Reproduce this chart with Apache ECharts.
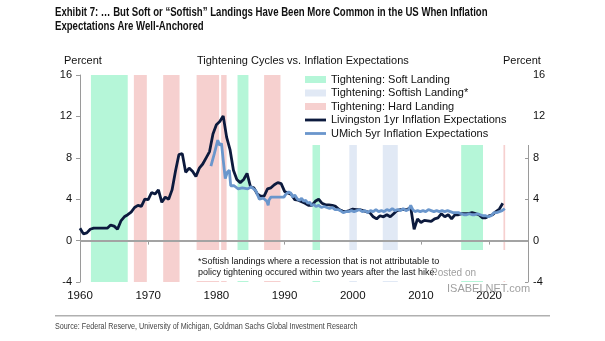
<!DOCTYPE html>
<html><head><meta charset="utf-8">
<script src="https://cdn.jsdelivr.net/npm/echarts@6/dist/echarts.min.js"></script>
<style>html,body{margin:0;padding:0;background:#fff}#c{width:605px;height:341px}</style>
</head><body><div id="c"></div>
<script>
// ---- Data ----
const livYears = [1960.0,1960.5,1961.0,1961.5,1962.0,1962.5,1963.0,1963.5,1964.0,1964.5,1965.0,1965.5,1966.0,1966.5,1967.0,1967.5,1968.0,1968.5,1969.0,1969.5,1970.0,1970.5,1971.0,1971.5,1972.0,1972.5,1973.0,1973.5,1974.0,1974.5,1975.0,1975.5,1976.0,1976.5,1977.0,1977.5,1978.0,1978.5,1979.0,1979.5,1980.0,1980.5,1981.0,1981.5,1982.0,1982.5,1983.0,1983.5,1984.0,1984.5,1985.0,1985.5,1986.0,1986.5,1987.0,1987.5,1988.0,1988.5,1989.0,1989.5,1990.0,1990.5,1991.0,1991.5,1992.0,1992.5,1993.0,1993.5,1994.0,1994.5,1995.0,1995.5,1996.0,1996.5,1997.0,1997.5,1998.0,1998.5,1999.0,1999.5,2000.0,2000.5,2001.0,2001.5,2002.0,2002.5,2003.0,2003.5,2004.0,2004.5,2005.0,2005.5,2006.0,2006.5,2007.0,2007.5,2008.0,2008.5,2009.0,2009.5,2010.0,2010.5,2011.0,2011.5,2012.0,2012.5,2013.0,2013.5,2014.0,2014.5,2015.0,2015.5,2016.0,2016.5,2017.0,2017.5,2018.0,2018.5,2019.0,2019.5,2020.0,2020.5,2021.0,2021.5,2022.0];
const livVals = [1.2,0.65,0.75,1.1,1.2,1.2,1.2,1.2,1.2,1.5,1.4,1.1,1.9,2.3,2.5,2.75,3.2,3.4,3.3,4.0,3.95,4.65,4.5,4.9,3.7,4.2,4.0,4.9,6.7,8.3,8.4,6.6,7.0,6.7,6.2,7.0,7.4,8.0,8.6,10.3,11.2,11.5,12.05,10.0,8.8,6.8,5.9,5.6,5.9,6.5,5.2,5.1,4.5,4.3,4.3,5.0,5.1,5.4,5.6,5.5,4.75,4.6,4.45,3.95,3.9,3.75,3.6,3.4,3.4,3.8,4.0,3.6,3.45,3.45,3.4,3.3,3.0,2.85,2.8,2.9,3.05,3.0,3.0,2.9,2.8,2.7,2.3,2.1,2.4,2.3,2.5,2.3,2.6,2.9,3.0,3.0,3.0,3.2,1.1,2.1,1.75,1.95,1.9,1.85,2.1,2.2,2.6,2.3,2.5,2.1,2.5,2.5,2.6,2.6,2.6,2.7,2.6,2.5,2.2,2.2,2.4,2.5,2.8,3.05,3.6];

const umYears = [1979.2,1979.7,1980.2,1980.5,1980.75,1981.0,1981.3,1981.6,1981.9,1982.1,1982.6,1983.2,1983.8,1984.6,1985.1,1985.8,1986.3,1986.9,1987.4,1987.6,1987.7,1988.0,1988.7,1989.9,1990.2,1990.6,1990.9,1991.2,1991.5,1991.9,1992.2,1992.5,1992.8,1993.1,1993.4,1993.7,1994.0,1994.3,1994.6,1995.0,1995.4,1995.8,1996.2,1996.6,1997.0,1997.4,1997.8,1998.2,1998.6,1999.0,1999.4,1999.8,2000.2,2000.6,2001.0,2001.4,2001.8,2002.2,2002.6,2003.0,2003.4,2003.8,2004.2,2004.6,2005.0,2005.4,2005.8,2006.2,2006.6,2007.0,2007.4,2007.8,2008.2,2008.5,2008.8,2009.1,2009.5,2009.9,2010.3,2010.7,2011.1,2011.5,2011.9,2012.3,2012.7,2013.1,2013.5,2013.9,2014.3,2014.7,2015.1,2015.5,2015.9,2016.3,2016.7,2017.1,2017.5,2017.9,2018.3,2018.7,2019.1,2019.5,2019.9,2020.3,2020.7,2021.1,2021.5,2021.9,2022.3];
const umVals = [7.2,8.4,9.7,9.2,9.4,7.8,6.0,6.6,6.8,5.3,5.3,5.0,5.1,5.0,5.2,4.8,4.0,4.1,3.8,3.4,3.9,4.2,4.2,4.2,4.5,4.7,4.6,4.2,4.4,4.0,3.9,4.1,3.8,3.9,3.6,3.7,3.4,3.5,3.3,3.4,3.2,3.3,3.2,3.1,3.2,3.0,3.0,2.9,2.7,2.8,2.8,2.9,2.8,2.9,3.0,2.8,2.9,2.7,2.9,2.8,3.0,2.8,2.9,2.8,3.0,2.9,3.1,2.9,3.0,2.9,3.1,2.9,3.0,3.4,3.0,2.8,2.9,2.8,2.9,2.8,3.0,2.9,2.8,2.9,2.8,2.9,2.8,2.9,2.8,2.7,2.7,2.7,2.6,2.5,2.5,2.6,2.5,2.5,2.6,2.5,2.4,2.4,2.3,2.4,2.7,2.7,2.8,2.9,3.1];

const softStart = [1961.6,1983.1,1994.1,2015.9];
const softEnd   = [1967.0,1984.7,1995.2,2019.1];
const softishStart = [1999.5,2004.4];
const softishEnd   = [2000.6,2006.6];
const hardStart = [1967.9,1972.2,1977.1,1980.7,1987.0,2022.1];
const hardEnd   = [1969.8,1974.6,1980.4,1981.5,1989.4,2022.35];

const names = ['Tightening: Soft Landing','Tightening: Softish Landing*','Tightening: Hard Landing','Livingston 1yr Inflation Expectations','UMich 5yr Inflation Expectations'];
const titleLines = ['Exhibit 7: \u2026 But Soft or \u201cSoftish\u201d Landings Have Been More Common in the US When Inflation','Expectations Are Well-Anchored'];
const chartTitle = 'Tightening Cycles vs. Inflation Expectations';
const footLines = ['*Softish landings where a recession that is not attributable to','policy tightening occured within two years after the last hike.'];
const sourceText = 'Source: Federal Reserve, University of Michigan, Goldman Sachs Global Investment Research';

// ---- Build ----
const C_SOFT = '#b5f6d8', C_SOFTISH = '#e1e9f5', C_HARD = '#f6d0cf';
const C_LIV = '#0c1a3d', C_UM = '#6a96cc';
function bands(s, e){ return s.map((v,i)=>[{xAxis:v, yAxis:16},{xAxis:e[i], yAxis:-4}]); }
const pairs = (xs, ys) => xs.map((x,i)=>[x, ys[i]]);

const FONT = '"Liberation Sans", Arial, sans-serif';
const LINE_ICON = 'path://M0,0L30,0L30,4L0,4Z';

const chart = echarts.init(document.getElementById('c'), null, {renderer:'canvas'});
const axisCommon = {
  type:'value', min:-4, max:16, interval:4,
  axisLine:{show:true, lineStyle:{color:'#9a9a9a', width:1}},
  splitLine:{show:false},
  axisLabel:{color:'#111', fontSize:11, fontFamily:FONT}
};
chart.setOption({
  animation:false,
  grid:{left:80, right:77, top:75, bottom:59, containLabel:false},
  xAxis:{type:'value', min:1960, max:2025.7, interval:10,
    axisLine:{lineStyle:{color:'#9a9a9a'}}, axisTick:{length:4, lineStyle:{color:'#9a9a9a'}},
    splitLine:{show:false},
    axisLabel:{showMaxLabel:false, color:'#111', fontSize:11.5, fontFamily:FONT, margin:8,
      formatter: v => String(Math.round(v))}},
  yAxis:[
    Object.assign({}, axisCommon, {position:'left', axisTick:{show:true, length:4, lineStyle:{color:'#9a9a9a'}}, axisLabel:Object.assign({}, axisCommon.axisLabel, {margin:8})}),
    Object.assign({}, axisCommon, {position:'right', axisTick:{show:true, inside:true, length:3, lineStyle:{color:'#9a9a9a'}}, axisLabel:Object.assign({}, axisCommon.axisLabel, {margin:5})})
  ],
  legend:{
    left:300, top:71, orient:'vertical', backgroundColor:'#fff',
    padding:[3,24,6,5], itemGap:2.5, itemWidth:21, itemHeight:7,
    textStyle:{color:'#111', fontSize:11, fontFamily:FONT},
    data:[
      {name:names[0], icon:'rect'},
      {name:names[1], icon:'rect'},
      {name:names[2], icon:'rect'},
      {name:names[3], icon:LINE_ICON},
      {name:names[4], icon:LINE_ICON}
    ]
  },
  series:[
    {name:names[0], type:'line', data:[], color:C_SOFT, itemStyle:{color:C_SOFT},
      markArea:{silent:true, itemStyle:{color:C_SOFT}, data:bands(softStart, softEnd)}},
    {name:names[1], type:'line', data:[], color:C_SOFTISH, itemStyle:{color:C_SOFTISH},
      markArea:{silent:true, itemStyle:{color:C_SOFTISH}, data:bands(softishStart, softishEnd)}},
    {name:names[2], type:'line', data:[], color:C_HARD, itemStyle:{color:C_HARD},
      markArea:{silent:true, itemStyle:{color:C_HARD}, data:bands(hardStart, hardEnd)},
      markLine:{silent:true, symbol:'none', label:{show:false}, lineStyle:{color:'#a3a3a3', width:2, type:'solid'}, data:[{yAxis:0}]}},
    {name:names[3], type:'line', data:pairs(livYears, livVals), showSymbol:false, symbol:'none',
      color:C_LIV, itemStyle:{color:C_LIV}, lineStyle:{color:C_LIV, width:2.8}, z:3},
    {name:names[4], type:'line', data:pairs(umYears, umVals), showSymbol:false, symbol:'none',
      color:C_UM, itemStyle:{color:C_UM}, lineStyle:{color:C_UM, width:2.8}, z:4}
  ],
  graphic:[
    {type:'text', left:55, top:7, z:100, scaleX:0.8, style:{text:titleLines[0], font:'bold 12px '+FONT, fill:'#111'}},
    {type:'text', left:55, top:21, z:100, scaleX:0.8, style:{text:titleLines[1], font:'bold 12px '+FONT, fill:'#111'}},
    {type:'text', left:64, top:55, z:100, style:{text:'Percent', font:'11px '+FONT, fill:'#111'}},
    {type:'text', left:503, top:55, z:100, style:{text:'Percent', font:'11px '+FONT, fill:'#111'}},
    {type:'text', left:197, top:55, z:100, style:{text:chartTitle, font:'11px '+FONT, fill:'#111'}},
    {type:'rect', left:188, top:250, z:100, shape:{width:339, height:31}, style:{fill:'#fff'}},
    {type:'text', left:198, top:257, z:101, style:{text:footLines[0], font:'9px '+FONT, fill:'#111'}},
    {type:'text', left:198, top:268, z:101, style:{text:footLines[1], font:'9px '+FONT, fill:'#111'}},
    {type:'text', left:431, top:268, z:102, style:{text:'Posted on', font:'10px '+FONT, fill:'#a0a0a0'}},
    {type:'text', left:447, top:283, z:102, style:{text:'ISABELNET.com', font:'11px '+FONT, fill:'#a0a0a0'}},
    {type:'rect', left:55, top:315, z:100, shape:{width:495, height:1.5}, style:{fill:'#b0b0b0'}},
    {type:'text', left:55, top:322, z:100, scaleX:0.8, style:{text:sourceText, font:'9px '+FONT, fill:'#444'}}
  ]
});
</script></body></html>
